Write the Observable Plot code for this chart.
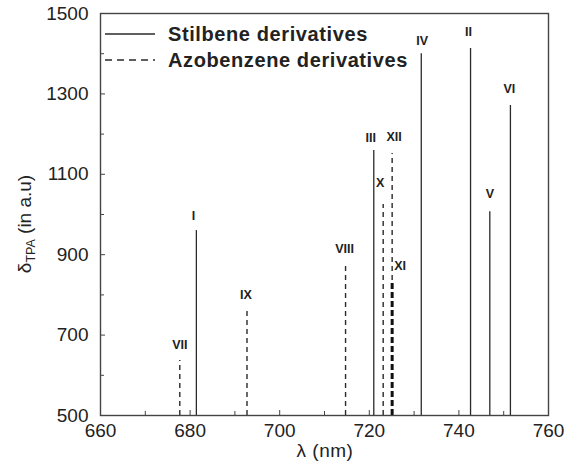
<!DOCTYPE html>
<html><head><meta charset="utf-8">
<script src="https://cdn.jsdelivr.net/npm/d3@7"></script>
<script src="https://cdn.jsdelivr.net/npm/@observablehq/plot@0.6"></script>
<style>body{margin:0;background:#fff;} svg{font-family:"Liberation Sans",Arial,sans-serif;}</style>
</head><body><div id="chart"></div>
<script>
// Data
const names   = ["VII","I","IX","VIII","III","X","XII","XI","IV","II","V","VI"];
const lambda  = [677.7,681.4,692.7,714.7,721.0,723.1,725.1,725.1,731.6,742.6,746.9,751.5];
const delta   = [637,960,766,880,1159,1025,1152,836,1400,1413,1007,1271];
const family  = ["Azobenzene","Stilbene","Azobenzene","Azobenzene","Stilbene","Azobenzene","Azobenzene","Azobenzene","Stilbene","Stilbene","Stilbene","Stilbene"];
const xTicks  = [660,680,700,720,740,760];
const xMinor  = [670,690,710,730,750];
const yTicks  = [500,700,900,1100,1300,1500];
const yMinor  = [600,800,1000,1200,1400];
const legendLabels = ["Stilbene derivatives","Azobenzene derivatives"];

// label nudges (style)
const nudge = {VII:[0,-15],I:[-3,-15],IX:[-1,-14],VIII:[-1,-14],III:[-3,-13],X:[-3,-21],XII:[2,-16],XI:[8,-14],IV:[1,-13],II:[-2,-16],V:[0,-18],VI:[-1,-17]};

const data = names.map((n,i)=>({name:n, x:lambda[i], y:delta[i], fam:family[i], dx:nudge[n][0], dy:nudge[n][1]}));
const solid = data.filter(d=>d.fam==="Stilbene");
const dashed = data.filter(d=>d.fam==="Azobenzene" && d.name!=="XI");
const thick = data.filter(d=>d.name==="XI");

const stroke = "#2a2a2a";
const fmt = d3.format("d");
const plot = Plot.plot({
  width:565, height:467,
  marginLeft:100, marginRight:17, marginTop:13, marginBottom:52,
  x:{domain:[660,760]},
  y:{domain:[500,1500]},
  style:{fontFamily:"Liberation Sans, Arial, sans-serif", background:"#fff"},
  marks:[
    Plot.ruleX(solid,{x:"x", y1:500, y2:"y", stroke, strokeWidth:1.3}),
    Plot.ruleX(dashed,{x:"x", y1:500, y2:"y", stroke, strokeWidth:1.4, strokeDasharray:"5,4"}),
    Plot.ruleX(thick,{x:"x", y1:500, y2:"y", stroke:"#111", strokeWidth:3, strokeDasharray:"6,3"}),
    ...data.map(d=>Plot.text([d],{x:"x", y:"y", text:"name", dx:d.dx, dy:d.dy, fontWeight:"bold", fontSize:12.5, fill:"#222"})),
    Plot.axisX({ticks:xTicks, tickFormat:fmt, tickSize:-5, tickPadding:13, fontSize:19, stroke:"#444", label:null, color:"#222"}),
    Plot.axisX({ticks:xMinor, tickSize:-4, tickFormat:()=>"", stroke:"#444", label:null}),
    Plot.axisY({ticks:yTicks, tickFormat:fmt, tickSize:-5, tickPadding:17, fontSize:19, stroke:"#444", label:null, color:"#222"}),
    Plot.axisY({ticks:yMinor, tickSize:-4, tickFormat:()=>"", stroke:"#444", label:null}),
    Plot.frame({stroke:"#444", strokeWidth:1.4})
  ]
});
document.getElementById("chart").append(plot);

// Axis titles and legend
const svg = d3.select(plot);
svg.append("text").attr("x",325).attr("y",457).attr("text-anchor","middle")
  .attr("font-size",19).attr("letter-spacing","0.5px").attr("fill","#222").text("λ (nm)");
const yl = svg.append("text").attr("transform","translate(31,224) rotate(-90)")
  .attr("text-anchor","middle").attr("font-size",19).attr("fill","#222");
yl.append("tspan").text("δ");
yl.append("tspan").attr("font-size",12.5).attr("dy",4).text("TPA");
yl.append("tspan").attr("dy",-4).text(" (in a.u)");

const lg = svg.append("g");
[0,1].forEach(i=>{
  const y = 34 + i*26;
  lg.append("line").attr("x1",105).attr("x2",155).attr("y1",y).attr("y2",y)
    .attr("stroke",stroke).attr("stroke-width",1.3).attr("stroke-dasharray", i? "7,5": null);
  lg.append("text").attr("x",168).attr("y",y).attr("dy","0.35em").attr("text-anchor","start")
    .attr("font-size",20).attr("letter-spacing","0.6px").attr("font-weight","bold").attr("fill","#222").text(legendLabels[i]);
});
</script></body></html>
